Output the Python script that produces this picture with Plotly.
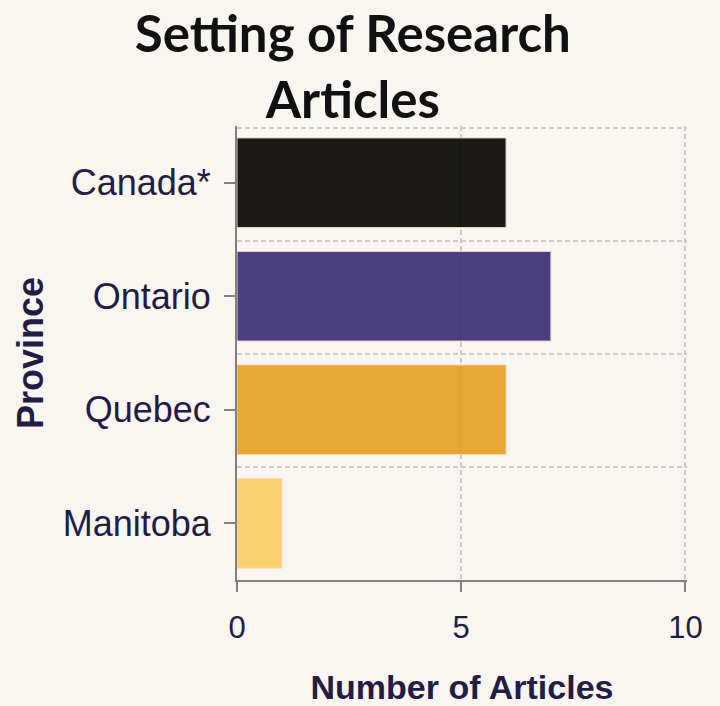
import plotly.graph_objects as go

categories = ["Canada*", "Ontario", "Quebec", "Manitoba"]
values = [6, 7, 6, 1]
bar_colors = ["#020200", "#392d73", "#e49f1f", "#fbcd62"]
x_ticks = [0, 5, 10]
boundaries = [-0.5, 0.5, 1.5, 2.5, 3.5]

BG = "#f9f5f1"
TXT = "#231d45"
GRID = "#cdcbc9"
AXIS = "#808080"

fig = go.Figure()
fig.add_trace(go.Bar(
    y=categories, x=values, orientation="h",
    marker=dict(color=bar_colors, line=dict(color="#f7d2bf", width=1)),
    opacity=0.9, showlegend=False, hoverinfo="skip",
))
fig.add_trace(go.Scatter(x=[None], y=[None], yaxis="y2", showlegend=False, hoverinfo="skip"))

fig.update_layout(
    width=720, height=706,
    paper_bgcolor=BG, plot_bgcolor=BG,
    margin=dict(l=237, r=33, t=126, b=126, autoexpand=False),
    bargap=0.21,
    title=dict(
        text="<b>Setting of Research<br>Articles</b>",
        x=0.49, xanchor="center", y=0.927, yanchor="top",
        font=dict(family="Lato", size=51, color="#111111"),
    ),
    xaxis=dict(
        range=[0, 10.035], tickvals=x_ticks, automargin=False,
        showgrid=True, gridcolor=GRID, griddash="5px,3px", gridwidth=1.5,
        zeroline=False, showline=True, linecolor=AXIS, linewidth=2,
        ticks="outside", ticklen=10, tickcolor=AXIS, tickwidth=2,
        tickfont=dict(family="Liberation Sans", size=31, color=TXT),
        ticklabelstandoff=9,
        title=dict(text="<b>Number of Articles</b>", standoff=34,
                   font=dict(family="Liberation Sans", size=34, color=TXT)),
    ),
    yaxis=dict(
        categoryorder="array", categoryarray=categories, autorange="reversed",
        automargin=False,
        showgrid=False, zeroline=False, showline=True, linecolor=AXIS, linewidth=2,
        ticks="outside", ticklen=11, tickcolor=AXIS, tickwidth=2,
        tickfont=dict(family="Liberation Sans", size=36, color=TXT),
        ticklabelstandoff=6,
        title=dict(text="<b>Province</b>", standoff=8,
                   font=dict(family="Liberation Sans", size=36, color=TXT)),
    ),
    yaxis2=dict(
        overlaying="y", anchor="x", side="left", automargin=False,
        range=[3.5, -0.52], tickvals=boundaries,
        showgrid=True, gridcolor=GRID, griddash="5px,3px", gridwidth=1.5,
        showticklabels=False, ticks="", zeroline=False, showline=False,
    ),
)

fig.write_html("out.html")
